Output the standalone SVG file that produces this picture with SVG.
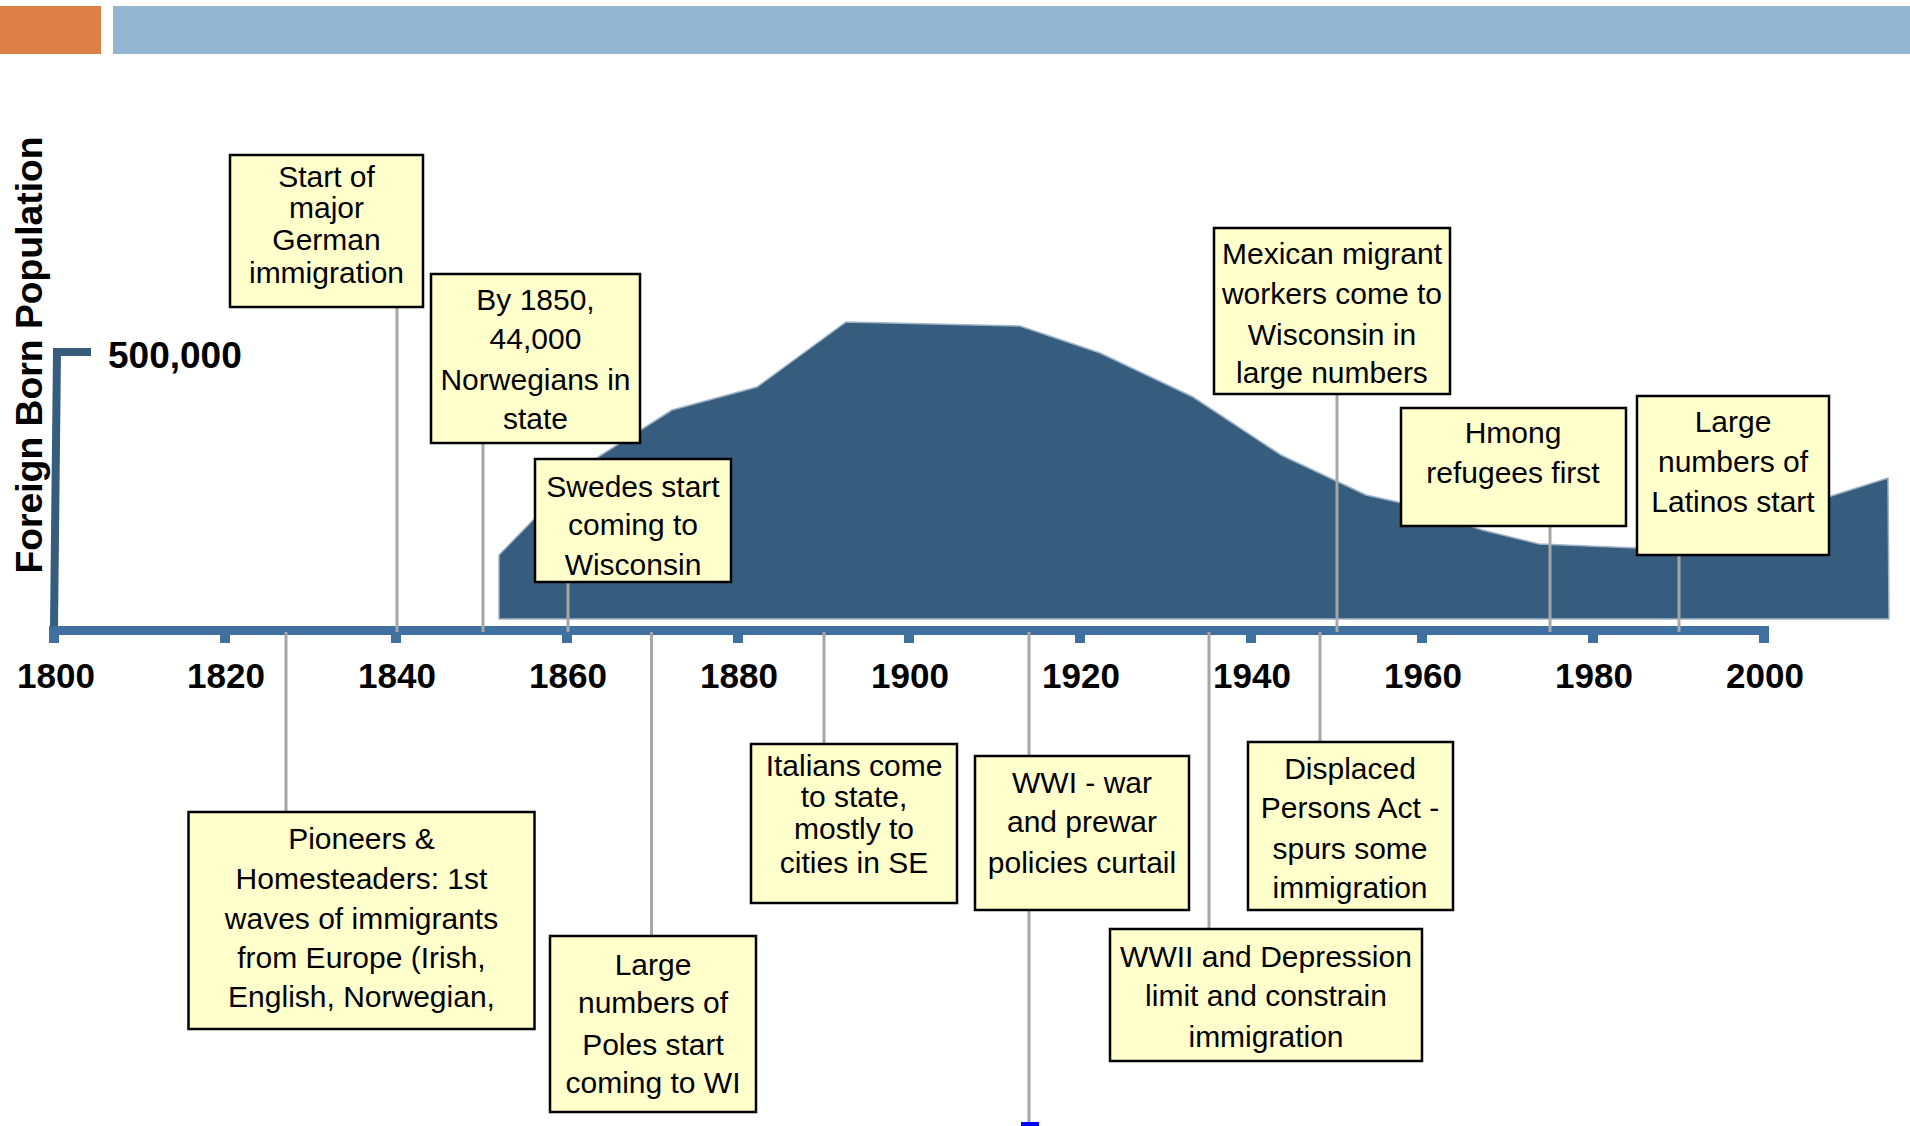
<svg xmlns="http://www.w3.org/2000/svg" width="1910" height="1126" viewBox="0 0 1910 1126">
<style>
.box{fill:#ffffcc;stroke:#000;stroke-width:2.5}
.bt{font-family:"Liberation Sans",Arial,sans-serif;font-size:30px;fill:#000;text-anchor:middle}
.yr{font-family:"Liberation Sans",Arial,sans-serif;font-size:35px;font-weight:bold;fill:#000;text-anchor:middle}
.con{stroke:#a6a6a6;stroke-width:3;fill:none}
.tick{fill:#4070a0}
</style>
<rect x="0" y="6" width="101" height="48" fill="#dd8047"/>
<rect x="113" y="6" width="1797" height="48" fill="#94b6d2"/>
<g id="area">
<polygon points="499,619 499,555 536,517 598,457 672,410 757,387 846,322 1020,326 1100,353 1193,397 1281,455 1366,495 1402,503 1482,530 1539,544 1637,548 1672,548 1828,497 1888,478 1889,619" fill="#375d7e" stroke="#9fb3c6" stroke-width="1.5"/>
</g>
<g id="axes">
<polygon points="50,627 58,627 61,352 53,352" fill="#375d7e"/>
<rect x="53" y="348" width="38" height="8" fill="#375d7e"/>
<text x="108" y="368" font-family="'Liberation Sans',Arial,sans-serif" font-size="37" font-weight="bold">500,000</text>
<text transform="translate(42,355) rotate(-90)" font-family="'Liberation Sans',Arial,sans-serif" font-size="37.3" font-weight="bold" text-anchor="middle">Foreign Born Population</text>
<rect x="49" y="626" width="1720" height="9" fill="#4070a0"/>
<rect class="tick" x="49" y="634" width="10" height="9"/>
<rect class="tick" x="220" y="634" width="10" height="9"/>
<rect class="tick" x="391" y="634" width="10" height="9"/>
<rect class="tick" x="562" y="634" width="10" height="9"/>
<rect class="tick" x="733" y="634" width="10" height="9"/>
<rect class="tick" x="904" y="634" width="10" height="9"/>
<rect class="tick" x="1075" y="634" width="10" height="9"/>
<rect class="tick" x="1246" y="634" width="10" height="9"/>
<rect class="tick" x="1417" y="634" width="10" height="9"/>
<rect class="tick" x="1588" y="634" width="10" height="9"/>
<rect class="tick" x="1759" y="634" width="10" height="9"/>
<text class="yr" x="56" y="688">1800</text>
<text class="yr" x="226" y="688">1820</text>
<text class="yr" x="397" y="688">1840</text>
<text class="yr" x="568" y="688">1860</text>
<text class="yr" x="739" y="688">1880</text>
<text class="yr" x="910" y="688">1900</text>
<text class="yr" x="1081" y="688">1920</text>
<text class="yr" x="1252" y="688">1940</text>
<text class="yr" x="1423" y="688">1960</text>
<text class="yr" x="1594" y="688">1980</text>
<text class="yr" x="1765" y="688">2000</text>
</g>
<g id="connectors">
<line class="con" x1="397" y1="307" x2="397" y2="632"/>
<line class="con" x1="483" y1="443" x2="483" y2="632"/>
<line class="con" x1="568" y1="582" x2="568" y2="632"/>
<line class="con" x1="286" y1="632" x2="286" y2="812"/>
<line class="con" x1="651.5" y1="632" x2="651.5" y2="936"/>
<line class="con" x1="824" y1="632" x2="824" y2="744"/>
<line class="con" x1="1029" y1="632" x2="1029" y2="1122"/>
<line class="con" x1="1209" y1="632" x2="1209" y2="929"/>
<line class="con" x1="1320" y1="632" x2="1320" y2="742"/>
<line class="con" x1="1337" y1="394" x2="1337" y2="632"/>
<line class="con" x1="1550" y1="526" x2="1550" y2="632"/>
<line class="con" x1="1679" y1="555" x2="1679" y2="632"/>
<rect x="1021" y="1122" width="18" height="4" fill="#0000ff"/>
</g>
<g id="german">
<rect class="box" x="230" y="155" width="193" height="152"/>
<text class="bt"><tspan x="326.5" y="187">Start of</tspan><tspan x="326.5" y="218">major</tspan><tspan x="326.5" y="250">German</tspan><tspan x="326.5" y="283">immigration</tspan></text>
</g>
<g id="norwegians">
<rect class="box" x="431" y="274" width="209" height="169"/>
<text class="bt"><tspan x="535.5" y="310">By 1850,</tspan><tspan x="535.5" y="349">44,000</tspan><tspan x="535.5" y="390">Norwegians in</tspan><tspan x="535.5" y="429">state</tspan></text>
</g>
<g id="swedes">
<rect class="box" x="535" y="459" width="196" height="123"/>
<text class="bt"><tspan x="633" y="497">Swedes start</tspan><tspan x="633" y="535">coming to</tspan><tspan x="633" y="575">Wisconsin</tspan></text>
</g>
<g id="pioneers">
<rect class="box" x="188.5" y="812" width="346" height="217"/>
<text class="bt"><tspan x="361.5" y="849">Pioneers &amp;</tspan><tspan x="361.5" y="889">Homesteaders: 1st</tspan><tspan x="361.5" y="929">waves of immigrants</tspan><tspan x="361.5" y="968">from Europe (Irish,</tspan><tspan x="361.5" y="1007">English, Norwegian,</tspan></text>
</g>
<g id="poles">
<rect class="box" x="550" y="936" width="206" height="176"/>
<text class="bt"><tspan x="653" y="975">Large</tspan><tspan x="653" y="1013">numbers of</tspan><tspan x="653" y="1055">Poles start</tspan><tspan x="653" y="1093">coming to WI</tspan></text>
</g>
<g id="italians">
<rect class="box" x="751" y="744" width="206" height="159"/>
<text class="bt"><tspan x="854" y="776">Italians come</tspan><tspan x="854" y="807">to state,</tspan><tspan x="854" y="839">mostly to</tspan><tspan x="854" y="873">cities in SE</tspan></text>
</g>
<g id="wwi">
<rect class="box" x="975" y="756" width="214" height="154"/>
<text class="bt"><tspan x="1082" y="793">WWI - war</tspan><tspan x="1082" y="832">and prewar</tspan><tspan x="1082" y="873">policies curtail</tspan></text>
</g>
<g id="wwii">
<rect class="box" x="1110" y="929" width="312" height="132"/>
<text class="bt"><tspan x="1266" y="967">WWII and Depression</tspan><tspan x="1266" y="1006">limit and constrain</tspan><tspan x="1266" y="1047">immigration</tspan></text>
</g>
<g id="displaced">
<rect class="box" x="1248" y="742" width="205" height="168"/>
<text class="bt"><tspan x="1350" y="779">Displaced</tspan><tspan x="1350" y="818">Persons Act -</tspan><tspan x="1350" y="859">spurs some</tspan><tspan x="1350" y="898">immigration</tspan></text>
</g>
<g id="mexican">
<rect class="box" x="1214" y="228" width="236" height="166"/>
<text class="bt"><tspan x="1332" y="264">Mexican migrant</tspan><tspan x="1332" y="304">workers come to</tspan><tspan x="1332" y="345">Wisconsin in</tspan><tspan x="1332" y="383">large numbers</tspan></text>
</g>
<g id="hmong">
<rect class="box" x="1401" y="408" width="225" height="118"/>
<text class="bt"><tspan x="1513" y="443">Hmong</tspan><tspan x="1513" y="483">refugees first</tspan></text>
</g>
<g id="latinos">
<rect class="box" x="1637" y="396" width="192" height="159"/>
<text class="bt"><tspan x="1733" y="432">Large</tspan><tspan x="1733" y="472">numbers of</tspan><tspan x="1733" y="512">Latinos start</tspan></text>
</g>
</svg>
